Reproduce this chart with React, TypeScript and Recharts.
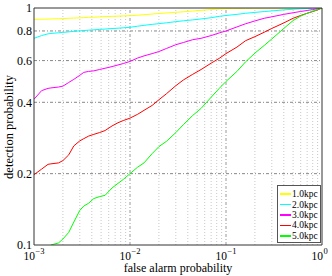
import React from "react";
import { LineChart, Line, XAxis, YAxis, ReferenceLine, Legend, Label } from "recharts";

// false alarm probability grid (log x)
const FP = [
  0.001, 0.0012, 0.0014, 0.0015, 0.0018, 0.002, 0.0023, 0.0026, 0.003, 0.0033, 0.0037, 0.0042,
  0.0048, 0.0055, 0.0065, 0.0075, 0.0085, 0.01, 0.012, 0.014, 0.017, 0.02, 0.024, 0.03, 0.036,
  0.045, 0.055, 0.07, 0.085, 0.1, 0.13, 0.16, 0.2, 0.25, 0.3, 0.4, 0.5, 0.6, 0.7, 0.8, 0.9, 1,
];

// detection probability per source distance
const PD_1KPC = [
  0.896, 0.897, 0.898, 0.899, 0.901, 0.902, 0.905, 0.907, 0.909, 0.911, 0.913, 0.915,
  0.917, 0.92, 0.922, 0.924, 0.926, 0.928, 0.932, 0.937, 0.943, 0.948, 0.953, 0.959, 0.964,
  0.971, 0.977, 0.985, 0.99, 0.993, 0.995, 0.996, 0.997, 0.998, 0.998, 0.999, 0.999, 0.999, 1, 1, 1, 1,
];
const PD_2KPC = [
  0.745, 0.765, 0.778, 0.781, 0.786, 0.789, 0.793, 0.797, 0.801, 0.803, 0.806, 0.809,
  0.812, 0.815, 0.819, 0.822, 0.825, 0.829, 0.838, 0.845, 0.853, 0.859, 0.866, 0.876, 0.883,
  0.891, 0.899, 0.91, 0.922, 0.93, 0.94, 0.95, 0.958, 0.966, 0.972, 0.982, 0.988, 0.992, 0.995, 0.997, 0.999, 1,
];
const PD_3KPC = [
  0.412, 0.448, 0.458, 0.46, 0.464, 0.468, 0.485, 0.5, 0.52, 0.535, 0.54, 0.543,
  0.55, 0.557, 0.566, 0.575, 0.583, 0.595, 0.615, 0.628, 0.642, 0.655, 0.675, 0.7, 0.715,
  0.735, 0.745, 0.765, 0.785, 0.8, 0.832, 0.858, 0.882, 0.905, 0.918, 0.94, 0.955, 0.967, 0.976, 0.985, 0.993, 1,
];
const PD_4KPC = [
  0.198, 0.209, 0.219, 0.22, 0.222, 0.227, 0.24, 0.262, 0.275, 0.281, 0.288, 0.293,
  0.298, 0.304, 0.318, 0.328, 0.335, 0.343, 0.356, 0.37, 0.388, 0.41, 0.435, 0.47, 0.497,
  0.525, 0.55, 0.585, 0.613, 0.642, 0.684, 0.728, 0.757, 0.79, 0.82, 0.865, 0.905, 0.93, 0.95, 0.966, 0.982, 1,
];
const PD_5KPC = [
  null, null, null, 0.1, 0.102, 0.106, 0.113, 0.125, 0.14, 0.146, 0.15, 0.157,
  0.16, 0.162, 0.174, 0.182, 0.189, 0.2, 0.213, 0.222, 0.243, 0.26, 0.274, 0.298, 0.322,
  0.352, 0.377, 0.42, 0.458, 0.49, 0.54, 0.593, 0.645, 0.695, 0.74, 0.82, 0.885, 0.925, 0.95, 0.968, 0.985, 1,
];

const SERIES = [
  { key: "d1", name: "1.0kpc", color: "#ffff00", values: PD_1KPC },
  { key: "d2", name: "2.0kpc", color: "#00ffff", values: PD_2KPC },
  { key: "d3", name: "3.0kpc", color: "#ff00ff", values: PD_3KPC },
  { key: "d4", name: "4.0kpc", color: "#ff0000", values: PD_4KPC },
  { key: "d5", name: "5.0kpc", color: "#00ff00", values: PD_5KPC },
];

const X_TICKS = [0.001, 0.01, 0.1, 1];
const X_EXP = ["\u22123", "\u22122", "\u22121", "0"];
const Y_TICKS = [0.1, 0.2, 0.4, 0.6, 0.8, 1];
const Y_LABELS = ["0.1", "0.2", "0.4", "0.6", "0.8", "1"];

const X_MINOR: number[] = [];
[0.001, 0.01, 0.1].forEach((d) => {
  for (let m = 2; m <= 9; m++) X_MINOR.push(+(d * m).toPrecision(3));
});

const data = FP.map((fp, i) => {
  const row: Record<string, number | null> = { fp };
  SERIES.forEach((s) => (row[s.key] = s.values[i]));
  return row;
});

const FONT = "'Liberation Serif', 'DejaVu Serif', serif";

const XTick = (props: any) => {
  const { x, y, payload } = props;
  const i = X_TICKS.indexOf(payload.value);
  return (
    <g fontFamily={FONT} fill="#000">
      <text x={x + 1} y={y + 14.5} textAnchor="end" fontSize={11.5}>10</text>
      <text x={x + 1.5} y={y + 9} textAnchor="start" fontSize={8.5}>{X_EXP[i]}</text>
    </g>
  );
};

const LegendBox = (props: any) => (
  <div
    style={{
      boxSizing: "border-box",
      width: 44,
      height: 58,
      border: "1px solid #555",
      background: "#fff",
      padding: "3px 0 0 2px",
      fontFamily: FONT,
      fontSize: 9.5,
      color: "#000",
    }}
  >
    {(props.payload || []).map((p: any) => (
      <div key={p.value} style={{ display: "flex", alignItems: "center", height: 10.4, lineHeight: "10px" }}>
        <span style={{ display: "inline-block", width: 11, height: 1.5, background: p.color, marginRight: 1 }} />
        <span>{p.value}</span>
      </div>
    ))}
  </div>
);

export default function App() {
  return (
    <div style={{ width: 332, height: 276, background: "#fff" }}>
      <style>{"body{margin:0}"}</style>
      <LineChart width={332} height={276} data={data} margin={{ top: 8, right: 10, bottom: 0, left: 0 }}>
        <XAxis
          dataKey="fp"
          type="number"
          scale="log"
          domain={[0.001, 1]}
          allowDataOverflow
          ticks={X_TICKS}
          interval={0}
          height={31}
          tickLine={false}
          tickSize={0}
          tickMargin={0}
          tick={<XTick />}
          axisLine={{ stroke: "#333" }}
        >
          <Label
            content={() => (
              <text x={178} y={272} textAnchor="middle" fontFamily={FONT} fontSize={12} fill="#000">
                false alarm probability
              </text>
            )}
          />
        </XAxis>
        <YAxis
          type="number"
          scale="log"
          domain={[0.1, 1]}
          allowDataOverflow
          ticks={Y_TICKS}
          interval={0}
          width={34}
          tickLine={false}
          tickSize={0}
          tickMargin={2}
          tickFormatter={(v: number) => Y_LABELS[Y_TICKS.indexOf(v)] ?? String(v)}
          tick={{ fontFamily: FONT, fontSize: 12, fill: "#000" }}
          axisLine={{ stroke: "#333" }}
        >
          <Label
            content={() => (
              <text
                x={13}
                y={127}
                transform="rotate(-90 13 127)"
                textAnchor="middle"
                fontFamily={FONT}
                fontSize={12.5}
                fill="#000"
              >
                detection probability
              </text>
            )}
          />
        </YAxis>

        {X_MINOR.map((v) => (
          <ReferenceLine key={`xm-${v}`} x={v} stroke="#c8c8c8" strokeDasharray="1 2" />
        ))}
        {[0.01, 0.1].map((v) => (
          <ReferenceLine key={`xM-${v}`} x={v} stroke="#999" strokeDasharray="3 2 1 2" />
        ))}
        {[0.2, 0.4, 0.6, 0.8].map((v) => (
          <ReferenceLine key={`y-${v}`} y={v} stroke="#888" strokeDasharray="3 2 1 2" />
        ))}

        {SERIES.map((s) => (
          <Line
            key={s.key}
            dataKey={s.key}
            name={s.name}
            type="linear"
            stroke={s.color}
            strokeWidth={1}
            dot={false}
            activeDot={false}
            isAnimationActive={false}
          />
        ))}

        <ReferenceLine x={1} stroke="#333" />
        <ReferenceLine y={1} stroke="#333" />

        <Legend
          layout="vertical"
          align="center"
          verticalAlign="middle"
          content={<LegendBox />}
          wrapperStyle={{ left: 277, top: 185, width: 44, height: 58, right: "auto", bottom: "auto" }}
        />
      </LineChart>
    </div>
  );
}
